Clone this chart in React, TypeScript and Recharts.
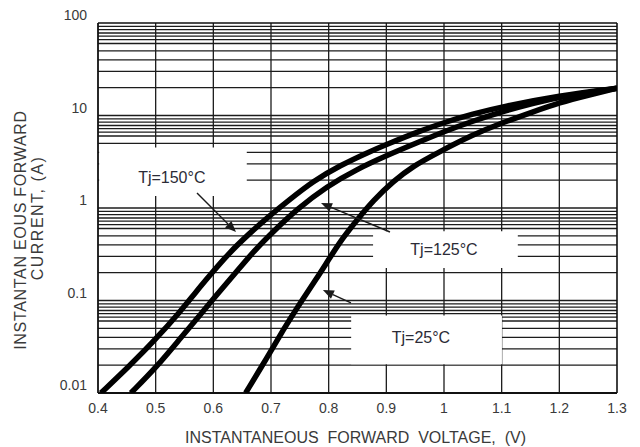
import React from 'react';
import { LineChart, Line, XAxis, YAxis, ReferenceLine, ReferenceArea, ReferenceDot } from 'recharts';

// ---- axis ticks ----
const xTicks = [0.4, 0.5, 0.6, 0.7, 0.8, 0.9, 1.0, 1.1, 1.2, 1.3];
const yTicks = [0.01, 0.1, 1, 10, 100];
const decades = [0.01, 0.1, 1, 10];
const minorSteps = [2, 3, 4, 5, 6, 6.6, 7.2, 7.8, 8.5, 9.2];

// ---- series: forward voltage (V) vs forward current (A) ----
const tj150 = [
  { v: 0.405, i: 0.01 },
  { v: 0.453, i: 0.0192 },
  { v: 0.499, i: 0.0374 },
  { v: 0.545, i: 0.079 },
  { v: 0.568, i: 0.12 },
  { v: 0.597, i: 0.197 },
  { v: 0.626, i: 0.32 },
  { v: 0.661, i: 0.52 },
  { v: 0.695, i: 0.8 },
  { v: 0.73, i: 1.2 },
  { v: 0.773, i: 1.95 },
  { v: 0.82, i: 2.89 },
  { v: 0.87, i: 4.04 },
  { v: 0.9, i: 4.86 },
  { v: 0.958, i: 6.79 },
  { v: 1.0, i: 8.4 },
  { v: 1.05, i: 10.4 },
  { v: 1.1, i: 12.4 },
  { v: 1.2, i: 16.4 },
  { v: 1.3, i: 19.7 },
];

const tj125 = [
  { v: 0.457, i: 0.01 },
  { v: 0.502, i: 0.0192 },
  { v: 0.545, i: 0.0406 },
  { v: 0.58, i: 0.073 },
  { v: 0.603, i: 0.11 },
  { v: 0.638, i: 0.197 },
  { v: 0.672, i: 0.352 },
  { v: 0.703, i: 0.55 },
  { v: 0.745, i: 0.97 },
  { v: 0.797, i: 1.72 },
  { v: 0.849, i: 2.62 },
  { v: 0.9, i: 3.68 },
  { v: 0.958, i: 5.21 },
  { v: 1.0, i: 6.7 },
  { v: 1.05, i: 8.7 },
  { v: 1.1, i: 11.0 },
  { v: 1.155, i: 13.6 },
  { v: 1.2, i: 15.9 },
  { v: 1.3, i: 19.7 },
];

const tj25 = [
  { v: 0.656, i: 0.01 },
  { v: 0.693, i: 0.024 },
  { v: 0.721, i: 0.048 },
  { v: 0.75, i: 0.093 },
  { v: 0.779, i: 0.172 },
  { v: 0.802, i: 0.29 },
  { v: 0.825, i: 0.48 },
  { v: 0.849, i: 0.74 },
  { v: 0.877, i: 1.2 },
  { v: 0.912, i: 1.95 },
  { v: 0.947, i: 2.85 },
  { v: 0.987, i: 3.9 },
  { v: 1.05, i: 6.2 },
  { v: 1.1, i: 8.3 },
  { v: 1.155, i: 11.0 },
  { v: 1.2, i: 13.8 },
  { v: 1.25, i: 16.6 },
  { v: 1.3, i: 19.7 },
];

// ---- annotations (in data units) ----
const curveLabels = [
  { text: 'Tj=150°C', v: 0.528, i: 2.16 },
  { text: 'Tj=125°C', v: 1.0, i: 0.36 },
  { text: 'Tj=25°C', v: 0.96, i: 0.0403 },
];
const labelBoxes = [
  { v1: 0.402, v2: 0.658, i1: 1.35, i2: 4.5 },
  { v1: 0.877, v2: 1.128, i1: 0.225, i2: 0.56 },
  { v1: 0.839, v2: 1.1005, i1: 0.0205, i2: 0.069 },
];
const arrows = [
  { v1: 0.5717, i1: 1.45, v2: 0.6393, i2: 0.55 },
  { v1: 0.9063, i1: 0.55, v2: 0.7867, i2: 1.13 },
  { v1: 0.8387, i1: 0.094, v2: 0.79, i2: 0.13 },
];

const xTitle = 'INSTANTANEOUS  FORWARD  VOLTAGE,  (V)';
const yTitle1 = 'INSTANTAN EOUS FORWARD';
const yTitle2 = 'CURRENT, (A)';

const gridY = decades.flatMap((d) => minorSteps.map((m) => Number((d * m).toPrecision(3)))).concat(yTicks.slice(1, -1));
const gridX = xTicks.slice(1, -1);

const FONT = '"Liberation Sans", Arial, Helvetica, sans-serif';
const GRID = '#1c1c1c';

const XTick = (p: any) => (
  <text x={p.x} y={p.y} dy="0.71em" textAnchor="middle" fontSize={14} fill="#3a3a3a" fontFamily={FONT}>
    {String(p.payload.value)}
  </text>
);

const YTick = (p: any) => (
  <text x={p.x} y={p.y - 8} textAnchor="end" dominantBaseline="central" fontSize={14} fill="#3a3a3a" fontFamily={FONT}>
    {String(p.payload.value)}
  </text>
);

const renderXTitle = (p: any) => {
  const vb = p && p.viewBox ? p.viewBox : { x: 98, y: 393, width: 519, height: 30 };
  return (
    <text
      x={vb.x + vb.width / 2 - 2}
      y={vb.y + 44}
      textAnchor="middle"
      dominantBaseline="central"
      fontSize={16}
      fill="#3a3a3a"
      fontFamily={FONT}
      style={{ whiteSpace: 'pre' }}
    >
      {xTitle}
    </text>
  );
};

const renderYTitle = (p: any) => {
  const vb = p && p.viewBox ? p.viewBox : { x: 38, y: 23, width: 60, height: 370 };
  const px = vb.x + vb.width;
  const cy = vb.y + vb.height / 2;
  const a = { x: px - 78, y: cy + 22 };
  const b = { x: px - 61, y: cy + 10 };
  return (
    <g>
      <text
        x={a.x}
        y={a.y}
        transform={`rotate(-90 ${a.x} ${a.y})`}
        textAnchor="middle"
        dominantBaseline="central"
        fontSize={16}
        letterSpacing={0.7}
        fill="#3a3a3a"
        fontFamily={FONT}
      >
        {yTitle1}
      </text>
      <text
        x={b.x}
        y={b.y}
        transform={`rotate(-90 ${b.x} ${b.y})`}
        textAnchor="middle"
        dominantBaseline="central"
        fontSize={16}
        letterSpacing={1.5}
        fill="#3a3a3a"
        fontFamily={FONT}
      >
        {yTitle2}
      </text>
    </g>
  );
};

const ArrowShape = (p: any) => {
  const { x1, y1, x2, y2 } = p;
  const ang = Math.atan2(y2 - y1, x2 - x1);
  const L = 11;
  const W = 4.5;
  const bx = x2 - L * Math.cos(ang);
  const by = y2 - L * Math.sin(ang);
  const px = -Math.sin(ang) * W;
  const py = Math.cos(ang) * W;
  return (
    <g>
      <line x1={x1} y1={y1} x2={bx} y2={by} stroke="#1a1a1a" strokeWidth={1.4} />
      <polygon points={`${x2},${y2} ${bx + px},${by + py} ${bx - px},${by - py}`} fill="#1a1a1a" />
    </g>
  );
};

export default function App() {
  return (
    <div style={{ position: 'absolute', left: 0, top: 0, width: 640, height: 447, background: '#fff' }}>
      <LineChart width={640} height={447} margin={{ top: 23, right: 23, left: 38, bottom: 24 }}>
        <XAxis
          dataKey="v"
          type="number"
          domain={[0.4, 1.3]}
          ticks={xTicks}
          allowDataOverflow
          tick={XTick}
          tickLine={false}
          axisLine={false}
          tickSize={0}
          tickMargin={10}
          height={30}
          interval={0}
          label={renderXTitle}
        />
        <YAxis
          dataKey="i"
          type="number"
          scale="log"
          domain={[0.01, 100]}
          ticks={yTicks}
          allowDataOverflow
          tick={YTick}
          tickLine={false}
          axisLine={false}
          tickSize={0}
          tickMargin={11}
          width={60}
          interval={0}
          label={renderYTitle}
        />
        {gridY.map((g) => (
          <ReferenceLine key={'gy' + g} y={g} stroke={GRID} strokeWidth={1.3} zIndex={10} />
        ))}
        {gridX.map((g) => (
          <ReferenceLine key={'gx' + g} x={g} stroke={GRID} strokeWidth={1.3} zIndex={10} />
        ))}
        {labelBoxes.map((b, k) => (
          <ReferenceArea
            key={'box' + k}
            x1={b.v1}
            x2={b.v2}
            y1={b.i1}
            y2={b.i2}
            fill="#ffffff"
            fillOpacity={1}
            stroke="none"
            zIndex={20}
          />
        ))}
        <ReferenceLine x={0.4} stroke="#111" strokeWidth={1.8} zIndex={30} />
        <ReferenceLine x={1.3} stroke="#111" strokeWidth={1.6} zIndex={30} />
        <ReferenceLine y={0.01} stroke="#111" strokeWidth={1.8} zIndex={30} />
        <ReferenceLine y={100} stroke="#111" strokeWidth={1.6} zIndex={30} />
        <Line data={tj150} dataKey="i" type="basis" stroke="#000" strokeWidth={5.5} dot={false} activeDot={false} isAnimationActive={false} zIndex={400} />
        <Line data={tj125} dataKey="i" type="basis" stroke="#000" strokeWidth={5.5} dot={false} activeDot={false} isAnimationActive={false} zIndex={400} />
        <Line data={tj25} dataKey="i" type="basis" stroke="#000" strokeWidth={5.5} dot={false} activeDot={false} isAnimationActive={false} zIndex={400} />
        {arrows.map((a, k) => (
          <ReferenceLine
            key={'arr' + k}
            segment={[
              { x: a.v1, y: a.i1 },
              { x: a.v2, y: a.i2 },
            ]}
            shape={ArrowShape}
            zIndex={500}
          />
        ))}
        {curveLabels.map((l) => (
          <ReferenceDot
            key={l.text}
            x={l.v}
            y={l.i}
            r={0}
            fill="none"
            stroke="none"
            zIndex={600}
            label={{ value: l.text, position: 'center', fontSize: 16, fill: '#2b2b36', fontFamily: FONT }}
          />
        ))}
      </LineChart>
    </div>
  );
}
